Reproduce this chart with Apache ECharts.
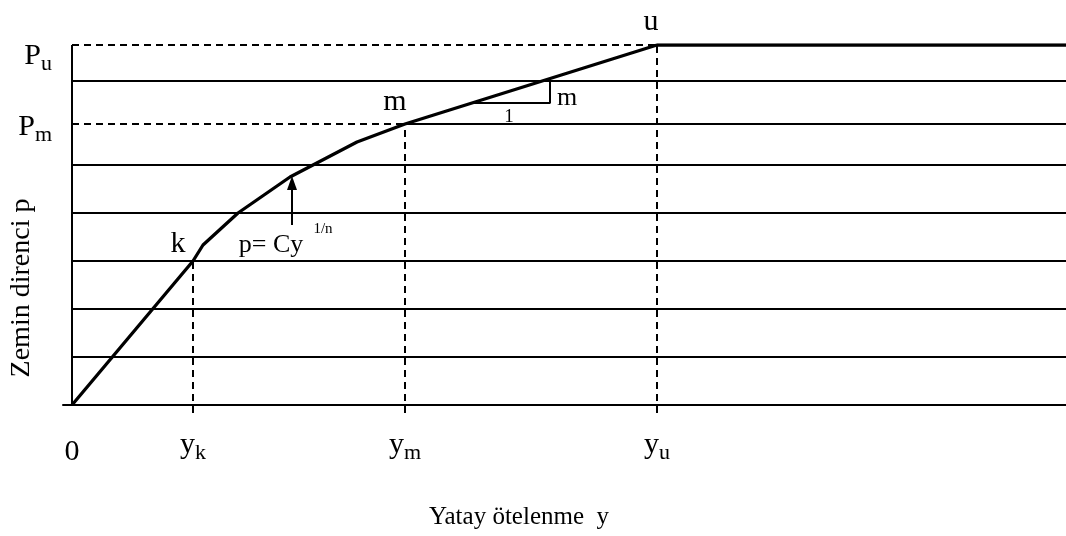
<!DOCTYPE html>
<html>
<head>
<meta charset="utf-8">
<script src="https://cdn.jsdelivr.net/npm/echarts@6/dist/echarts.min.js"></script>
<style>
html,body{margin:0;padding:0;background:#fff;}
#chart{width:1066px;height:536px;}
</style>
</head>
<body>
<div id="chart"></div>
<script>
// ---- data (schematic p–y curve) ----
const xTickValues = [0, 121, 333, 585];            // 0, yk, ym, yu
const xTickLabels = ['0', 'y|k', 'y|m', 'y|u'];
const yTickValues = [281, 360];                     // Pm, Pu
const yTickLabels = ['P|m', 'P|u'];
const gridLevels = [48, 96, 144, 192, 240, 324];    // horizontal guide lines
const yk = 121, ym = 333, yu = 585, xEnd = 994;
const pk = 144, pm = 281, pu = 360;
const curveX = [0, 121, 131, 166, 218, 285, 333, 585, 994];
const curveP = [0, 144, 160, 192, 228, 263, 281, 360, 360];
const triX = [401, 478, 478];
const triP = [302, 302, 326];
const arrowX = [220, 220];
const arrowP = [180, 222];
const pointLabels = ['k', 'm', 'u'];
const pointX = [121, 333, 585];
const pointP = [144, 281, 360];
const noteTexts = ['p= Cy', '1/n', '1', 'm'];
const noteX = [199, 251, 437, 495];
const noteP = [160, 176, 288, 307];

const FONT = 'Liberation Serif';
const BLACK = '#000';
const xMin = -9, yMin = -8;

function seg(points, dashed, width) {
  return {
    type: 'line', data: points, symbol: 'none', silent: true, animation: false,
    lineStyle: {color: BLACK, width: width || 2, type: dashed ? [7, 5] : 'solid'}
  };
}

const series = [];
gridLevels.forEach(lv => series.push(seg([[0, lv], [xEnd, lv]], false, 2)));
series.push(seg([[0, pm], [ym, pm]], true, 2));
series.push(seg([[ym, pm], [xEnd, pm]], false, 2));
series.push(seg([[0, pu], [yu, pu]], true, 2));
series.push(seg([[0, 0], [0, pu]], false, 2));
series.push(seg([[yk, yMin], [yk, pk]], true, 2));
series.push(seg([[ym, yMin], [ym, pm]], true, 2));
series.push(seg([[yu, yMin], [yu, pu]], true, 2));
series.push(seg(triX.map((x, i) => [x, triP[i]]), false, 2));

const curve = seg(curveX.map((x, i) => [x, curveP[i]]), false, 3.3);
curve.markLine = {
  silent: true, animation: false,
  symbol: ['none', 'triangle'], symbolSize: [10, 14],
  lineStyle: {color: BLACK, width: 2, type: 'solid'},
  label: {show: false},
  data: [[{coord: [arrowX[0], arrowP[0]]}, {coord: [arrowX[1], arrowP[1]]}]]
};
series.push(curve);

function labelStyle(size, offset) {
  return {show: true, position: 'inside', offset: offset || [0, 0], color: BLACK,
    opacity: 1, fontFamily: FONT, fontSize: size, textBorderWidth: 0, textShadowBlur: 0};
}

const pointOffsets = [[-15, -17], [-10, -22], [-6, -23]];
series.push({
  type: 'scatter', symbolSize: 0, silent: true, animation: false, clip: false,
  itemStyle: {opacity: 1},
  data: pointLabels.map((t, i) => ({
    value: [pointX[i], pointP[i]], name: t,
    label: Object.assign(labelStyle(30, pointOffsets[i]), {formatter: t})
  }))
});
const noteSizes = [26, 15, 19, 26];
series.push({
  type: 'scatter', symbolSize: 0, silent: true, animation: false, clip: false,
  itemStyle: {opacity: 1},
  data: noteTexts.map((t, i) => ({
    value: [noteX[i], noteP[i]], name: t,
    label: Object.assign(labelStyle(noteSizes[i]), {formatter: t})
  }))
});

function sub(txt, t) {
  const parts = txt.split('|');
  return parts.length === 1 ? '{z|' + parts[0] + '}' : '{a' + t + '|' + parts[0] + '}{s' + t + '|' + parts[1] + '}';
}

const option = {
  backgroundColor: '#fff',
  animation: false,
  grid: {left: 63, right: 0, top: 45, bottom: 123, containLabel: false, outerBoundsMode: 'none'},
  xAxis: {
    type: 'value', min: xMin, max: xEnd,
    splitLine: {show: false},
    axisTick: {show: false},
    axisLine: {show: true, onZero: true, lineStyle: {color: BLACK, width: 2}},
    axisLabel: {
      customValues: xTickValues, margin: 17, color: BLACK, fontFamily: FONT,
      formatter: v => sub(xTickLabels[xTickValues.indexOf(v)], '0'),
      rich: {
        z: {fontSize: 30, lineHeight: 30, fontFamily: FONT, color: BLACK, padding: [7, 0, 0, 0], verticalAlign: 'top'},
        a0: {fontSize: 30, lineHeight: 30, fontFamily: FONT, color: BLACK, verticalAlign: 'top'},
        s0: {fontSize: 22, lineHeight: 22, fontFamily: FONT, color: BLACK, verticalAlign: 'top', padding: [12, 0, 0, 0]}
      }
    }
  },
  yAxis: {
    type: 'value', min: yMin, max: pu,
    splitLine: {show: false},
    axisTick: {show: false},
    axisLine: {show: false, onZero: false},
    axisLabel: {
      customValues: yTickValues, margin: 11, color: BLACK, fontFamily: FONT,
      formatter: v => sub(yTickLabels[yTickValues.indexOf(v)], v === pu ? 'U' : 'M'),
      rich: {
        aM: {fontSize: 30, lineHeight: 30, fontFamily: FONT, color: BLACK, verticalAlign: 'top', padding: [3, 0, 0, 0]},
        sM: {fontSize: 22, lineHeight: 22, fontFamily: FONT, color: BLACK, verticalAlign: 'top', padding: [15, 0, 0, 0]},
        aU: {fontSize: 30, lineHeight: 30, fontFamily: FONT, color: BLACK, verticalAlign: 'top', padding: [11, 0, 0, 0]},
        sU: {fontSize: 22, lineHeight: 22, fontFamily: FONT, color: BLACK, verticalAlign: 'top', padding: [23, 0, 0, 0]}
      }
    }
  },
  graphic: [
    {type: 'text', x: 519, y: 517, silent: true,
      style: {text: 'Yatay ötelenme  y', font: '25px "Liberation Serif"', fill: BLACK, align: 'center', verticalAlign: 'middle'}},
    {type: 'text', x: 22, y: 288, rotation: Math.PI / 2, silent: true,
      style: {text: 'Zemin direnci p', font: '28px "Liberation Serif"', fill: BLACK, align: 'center', verticalAlign: 'middle'}}
  ],
  series: series
};

const chart = echarts.init(document.getElementById('chart'), null, {renderer: 'canvas'});
chart.setOption(option);
</script>
</body>
</html>
